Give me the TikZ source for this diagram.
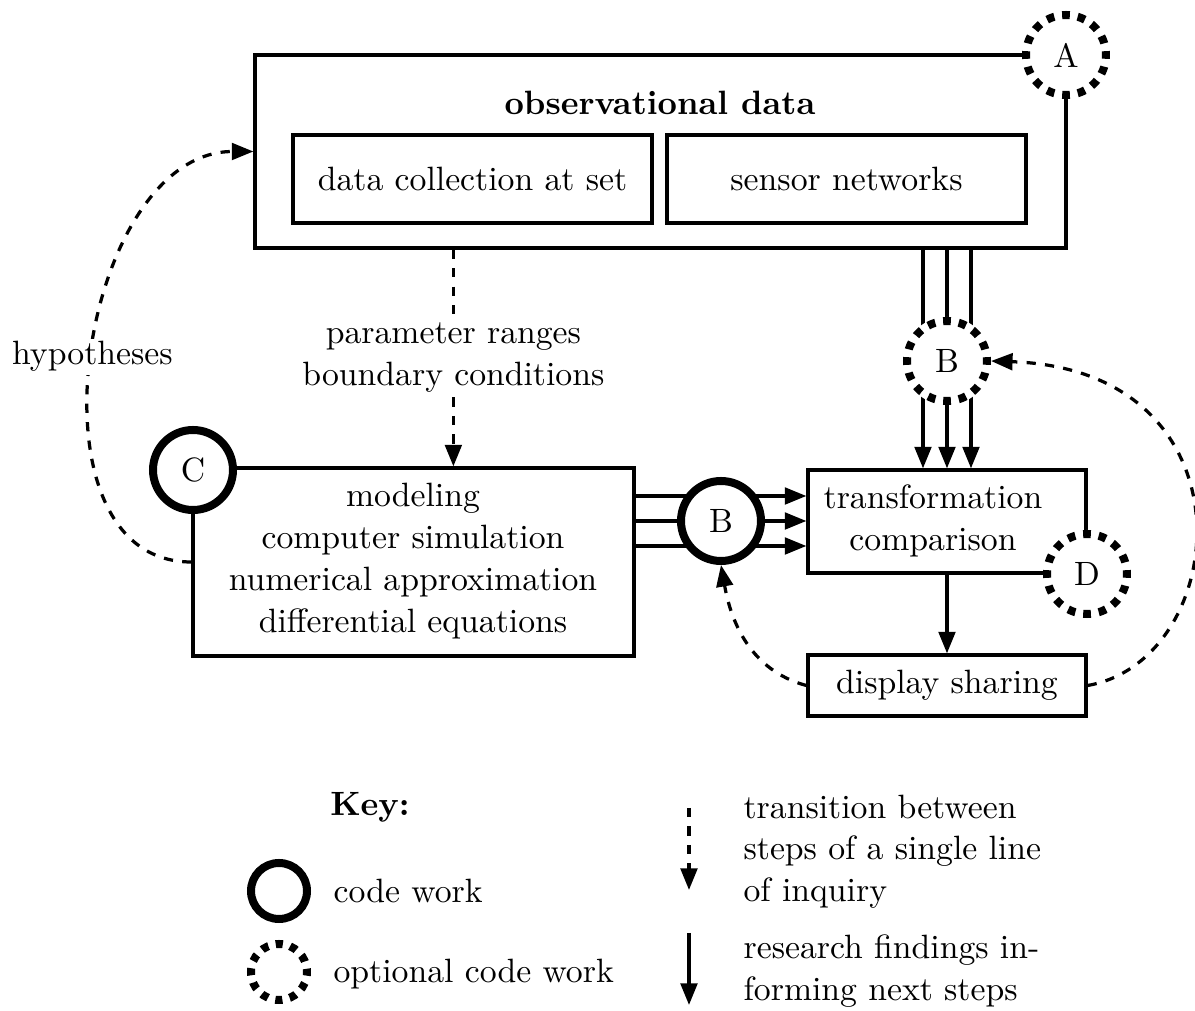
\documentclass[tikz,border=0pt]{standalone}
\usetikzlibrary{arrows.meta,calc,fit,backgrounds}
\newcommand\pxu{0.3247pt}
\begin{document}
\begin{tikzpicture}[x=0.3247pt,y=-0.3247pt,
  every node/.style={font=\fontsize{10.95}{13.6}\selectfont},
  box/.style={draw, line width=1.05pt, inner sep=0pt},
  txt/.style={align=center, inner sep=0pt},
  code/.style={circle, draw, fill=white, line width=2.6pt, minimum size=80*\pxu, inner sep=0pt},
  optcode/.style={circle, fill=white, line width=2.6pt, minimum size=80*\pxu, inner sep=0pt,
     preaction={draw=white, solid}, draw, dash pattern=on 2.5pt off 2.6pt, dash phase=1.25pt},
  keyopt/.style={optcode, minimum size=56*\pxu, dash pattern=on 2.3pt off 2.46pt},
  flow/.style={line width=1.05pt},
  arr/.style={flow, -{Triangle[length=7pt,width=5.4pt]}},
  transarr/.style={line width=1.05pt, dash pattern=on 3pt off 3pt, -{Triangle[length=7pt,width=5.4pt]}},
  lbl/.style={fill=white, align=center, inner sep=1pt}]
\useasboundingbox (0,0) rectangle (1195,1011);

% observational data
\node[box, fit={(255,55)(1066,248)}] (obs) {};
\node[txt] (obst) at (660,103) {\textbf{observational data}};
\node[box, fit={(293,135)(652,223)}] (dcs) {};
\node[txt] (dcst) at (dcs.center) {data collection at set};
\node[box, fit={(667,135)(1026,223)}] (sn) {};
\node[txt] (snt) at (sn.center) {sensor networks};
\node[optcode] (A) at (1066,55) {A};

% modeling
\node[box, fit={(193,468)(634,656)}] (mod) {};
\node[txt] (modt) at (413,561) {modeling\\computer simulation\\numerical approximation\\differential equations};
\node[code] (C) at (193,470) {C};

% transformation
\node[box, fit={(808,470)(1086,573)}] (tc) {};
\node[txt] (tct) at (933,521) {transformation\\comparison};
\node[optcode] (D) at (1087,574) {D};

% display
\node[box, fit={(808,655)(1086,716)}] (disp) {};
\node[txt] (dispt) at (disp.center) {display sharing};

% B circles
\node[optcode] (B1) at (947,361) {B};
\node[code] (B2) at (721,521) {B};

\coordinate (b1l) at ($(B1)+(-24,0)$);
\coordinate (b1m) at (B1);
\coordinate (b1r) at ($(B1)+(24,0)$);
\coordinate (b2t) at ($(B2)+(0,-25)$);
\coordinate (b2m) at (B2);
\coordinate (b2b) at ($(B2)+(0,25)$);

\begin{scope}[on background layer]
  \foreach \c in {b1l,b1m,b1r}{
    \draw[flow] (\c |- obs.south) -- (\c);
    \draw[arr] (\c) -- (\c |- tc.north);
  }
  \foreach \c in {b2t,b2m,b2b}{
    \draw[flow] (\c -| mod.east) -- (\c);
    \draw[arr] (\c) -- (\c -| tc.west);
  }
\end{scope}

\draw[arr] (tc.south) -- (disp.north);

% dashed transitions
\coordinate (pr) at ($(obs.south west)+(200,0)$);
\draw[transarr] (pr) -- (pr |- mod.north)
  node[midway, lbl] (prl) {parameter ranges\\boundary conditions};

\draw[transarr] (mod.west) to[out=180,in=180,looseness=1.07]
  node[pos=0.5, lbl] (hyp) {hypotheses} (obs.west);

\draw[transarr] (disp.west) to[out=165,in=-80] (B2.south);
\draw[transarr] (disp.east) .. controls +(144,-25) and +(268,9) .. (B1.east);

% key
\node[inner sep=0pt] (key) at (370,807) {\textbf{Key:}};
\node[code, minimum size=56*\pxu] (kc) at (279,891) {};
\node[anchor=base west, inner sep=0pt] (kct) at (333,903) {code work};
\node[keyopt] (ko) at (279,972) {};
\node[anchor=base west, inner sep=0pt] (kot) at (333,983) {optional code work};

\coordinate (ka1) at (689,808);
\coordinate (ka2) at (689,890);
\draw[transarr] (ka1) -- (ka2);
\coordinate (kb1) at (689,933);
\coordinate (kb2) at (689,1005);
\draw[arr] (kb1) -- (kb2);

\node[anchor=north west, align=left, inner sep=0pt] (kt1) at (743,794)
  {transition between\\steps of a single line\\of inquiry};
\node[anchor=north west, align=left, inner sep=0pt] (kt2) at (743,934)
  {research findings in-\\forming next steps};
\end{tikzpicture}
\end{document}
